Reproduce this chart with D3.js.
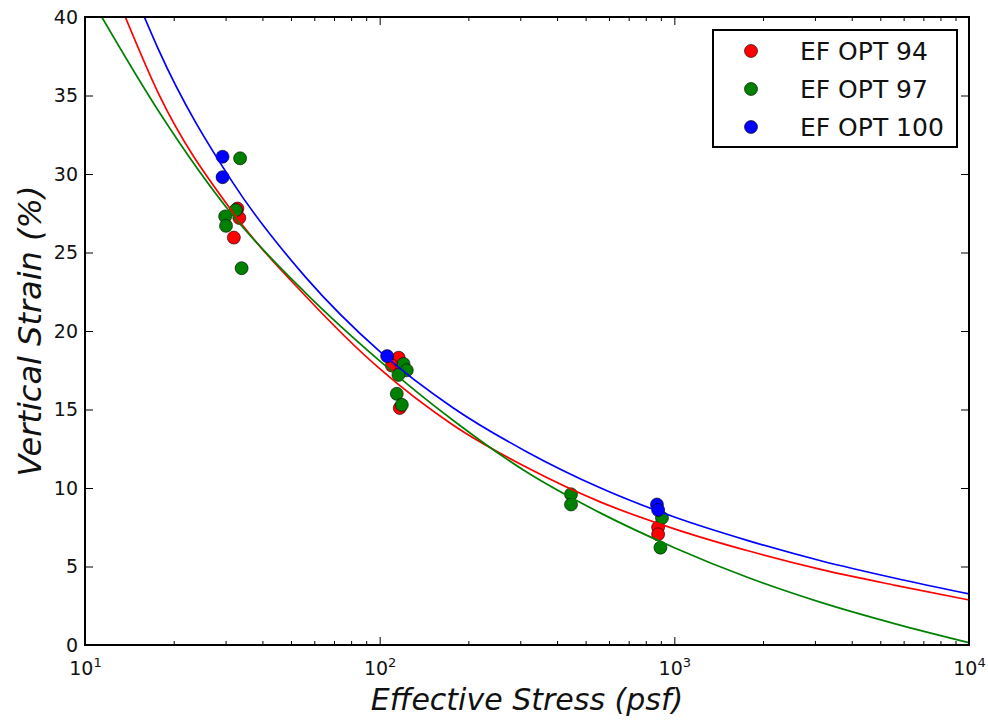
<!DOCTYPE html>
<html>
<head>
<meta charset="utf-8">
<script src="https://cdn.jsdelivr.net/npm/d3@7"></script>
<style>
  html, body { margin: 0; padding: 0; background: #fff; }
  svg { display: block; font-family: "DejaVu Sans", sans-serif; }
</style>
</head>
<body>
<div id="chart"></div>
<script>
// measured points, psf vs %
const opt94Stress = [32.9, 33.4, 32.0, 116, 110, 119, 117, 881, 881]
const opt94Strain = [27.8, 27.2, 25.95, 18.3, 17.8, 17.6, 15.1, 7.5, 7.05]
const opt97Stress = [33.6, 32.5, 29.9, 30.1, 34.0, 120.5, 123.6, 115.8, 114.3, 118.9, 446, 446, 908, 897]
const opt97Strain = [31.0, 27.7, 27.3, 26.7, 24.0, 17.9, 17.5, 17.2, 16.0, 15.3, 9.6, 8.95, 8.1, 6.2]
const opt100Stress = [29.3, 29.3, 106, 873, 881]
const opt100Strain = [31.1, 29.8, 18.4, 8.95, 8.6]

// fitted curves
const fit94Stress = [13.7, 17.78, 31.62, 56.23, 100, 177.8, 316.2, 562.3, 1000, 1778, 3162, 5623, 10000]
const fit94Strain = [40, 35.1, 27.6, 22.2, 17.6, 14.0, 11.3, 9.1, 7.4, 6.0, 4.8, 3.8, 2.87]
const fit97Stress = [11.4, 17.78, 31.62, 56.23, 100, 177.8, 316.2, 562.3, 1000, 1778, 3162, 5623, 10000]
const fit97Strain = [40, 34.0, 27.4, 22.4, 18.1, 14.3, 11.0, 8.4, 6.2, 4.3, 2.7, 1.35, 0.15]
const fit100Stress = [15.9, 17.78, 31.62, 56.23, 100, 177.8, 316.2, 562.3, 1000, 1778, 3162, 5623, 10000]
const fit100Strain = [40, 37.9, 29.5, 23.4, 18.7, 15.1, 12.3, 10.0, 8.15, 6.65, 5.35, 4.25, 3.25]

const seriesNames = ["EF OPT 94", "EF OPT 97", "EF OPT 100"]
const xMajorTicks = [10, 100, 1000, 10000]
const xTickExponents = ["1", "2", "3", "4"]
const yTicks = [0, 5, 10, 15, 20, 25, 30, 35, 40]

const colors = ["#ff0000", "#008000", "#0000ff"]

const zip = (xs, ys) => xs.map((v, i) => ({ stress: v, strain: ys[i] }))

const series = [
  { name: seriesNames[0], color: colors[0], points: zip(opt94Stress, opt94Strain), fit: zip(fit94Stress, fit94Strain) },
  { name: seriesNames[1], color: colors[1], points: zip(opt97Stress, opt97Strain), fit: zip(fit97Stress, fit97Strain) },
  { name: seriesNames[2], color: colors[2], points: zip(opt100Stress, opt100Strain), fit: zip(fit100Stress, fit100Strain) },
]

const W = 988, H = 721
const plot = { left: 85, right: 969, top: 17, bottom: 645 }

const svg = d3.select("#chart").append("svg")
  .attr("width", W)
  .attr("height", H)

svg.append("rect").attr("width", W).attr("height", H).attr("fill", "#fff")

const x = d3.scaleLog().domain([10, 10000]).range([plot.left, plot.right])
const y = d3.scaleLinear().domain([0, 40]).range([plot.bottom, plot.top])

svg.append("clipPath").attr("id", "plot-clip")
  .append("rect")
  .attr("x", plot.left).attr("y", plot.top)
  .attr("width", plot.right - plot.left).attr("height", plot.bottom - plot.top)

// points first, fit lines drawn over them
const pts = svg.append("g").attr("clip-path", "url(#plot-clip)")
series.forEach((s) => {
  pts.selectAll(null)
    .data(s.points)
    .enter()
    .append("circle")
    .attr("cx", (d) => x(d.stress))
    .attr("cy", (d) => y(d.strain))
    .attr("r", 6.5)
    .attr("fill", s.color)
    .attr("stroke", "#000")
    .attr("stroke-opacity", 0.75)
    .attr("stroke-width", 0.8)
})

const line = d3.line()
  .x((d) => x(d.stress))
  .y((d) => y(d.strain))
  .curve(d3.curveMonotoneX)

const lines = svg.append("g").attr("clip-path", "url(#plot-clip)")
series.forEach((s) => {
  lines.append("path")
    .datum(s.fit)
    .attr("fill", "none")
    .attr("stroke", s.color)
    .attr("stroke-width", 1.7)
    .attr("d", line)
})

// axes, ticks pointing inward
const minorTicks = x.ticks().filter((v) => !xMajorTicks.includes(v))

function styleAxis(g) {
  g.select(".domain").remove()
  g.selectAll(".tick line").attr("stroke", "#000").attr("stroke-width", 1)
}

const bottom = svg.append("g")
  .attr("transform", `translate(0,${plot.bottom})`)
  .call(d3.axisBottom(x).tickValues(xMajorTicks).tickSizeInner(-8).tickSizeOuter(0).tickPadding(12).tickFormat(() => ""))
  .call(styleAxis)

bottom.selectAll(".tick text")
  .attr("font-size", 19)
  .attr("fill", "#111")
  .attr("font-family", "DejaVu Sans, sans-serif")
  .attr("dy", "0.95em")
  .each(function (d, i) {
    const t = d3.select(this)
    t.append("tspan").text("10")
    t.append("tspan").attr("font-size", 13).attr("dy", "-0.6em").text(xTickExponents[i])
  })

svg.append("g")
  .attr("transform", `translate(0,${plot.bottom})`)
  .call(d3.axisBottom(x).tickValues(minorTicks).tickSizeInner(-4).tickSizeOuter(0).tickFormat(""))
  .call(styleAxis)

svg.append("g")
  .attr("transform", `translate(0,${plot.top})`)
  .call(d3.axisTop(x).tickValues(xMajorTicks).tickSizeInner(-8).tickSizeOuter(0).tickFormat(""))
  .call(styleAxis)

svg.append("g")
  .attr("transform", `translate(0,${plot.top})`)
  .call(d3.axisTop(x).tickValues(minorTicks).tickSizeInner(-4).tickSizeOuter(0).tickFormat(""))
  .call(styleAxis)

svg.append("g")
  .attr("transform", `translate(${plot.left},0)`)
  .call(d3.axisLeft(y).tickValues(yTicks).tickSizeInner(-8).tickSizeOuter(0).tickPadding(7).tickFormat(d3.format("d")))
  .call(styleAxis)
  .selectAll(".tick text")
  .attr("font-size", 19)
  .attr("fill", "#111")
  .attr("font-family", "DejaVu Sans, sans-serif")

svg.append("g")
  .attr("transform", `translate(${plot.right},0)`)
  .call(d3.axisRight(y).tickValues(yTicks).tickSizeInner(-8).tickSizeOuter(0).tickFormat(""))
  .call(styleAxis)

svg.append("rect")
  .attr("x", plot.left).attr("y", plot.top)
  .attr("width", plot.right - plot.left).attr("height", plot.bottom - plot.top)
  .attr("fill", "none")
  .attr("stroke", "#000")
  .attr("stroke-width", 2)

svg.append("text")
  .attr("x", (plot.left + plot.right) / 2)
  .attr("y", 710)
  .attr("text-anchor", "middle")
  .attr("font-size", 30)
  .attr("font-style", "italic")
  .attr("fill", "#111")
  .text("Effective Stress (psf)")

svg.append("text")
  .attr("transform", `translate(41,${(plot.top + plot.bottom) / 2}) rotate(-90)`)
  .attr("text-anchor", "middle")
  .attr("font-size", 32)
  .attr("font-style", "italic")
  .attr("fill", "#111")
  .text("Vertical Strain (%)")

// legend
const legend = svg.append("g").attr("transform", "translate(713,30)")
legend.append("rect")
  .attr("width", 244)
  .attr("height", 117)
  .attr("fill", "#fff")
  .attr("stroke", "#000")
  .attr("stroke-width", 2)

const item = legend.selectAll(".item")
  .data(series)
  .enter()
  .append("g")
  .attr("class", "item")
  .attr("transform", (d, i) => `translate(0,${21 + i * 38})`)

item.append("circle")
  .attr("cx", 38)
  .attr("r", 6.5)
  .attr("fill", (d) => d.color)
  .attr("stroke", "#000")
  .attr("stroke-opacity", 0.75)
  .attr("stroke-width", 0.8)

item.append("text")
  .attr("x", 87)
  .attr("dy", "0.36em")
  .attr("font-size", 25)
  .attr("fill", "#111")
  .text((d) => d.name)
</script>
</body>
</html>
